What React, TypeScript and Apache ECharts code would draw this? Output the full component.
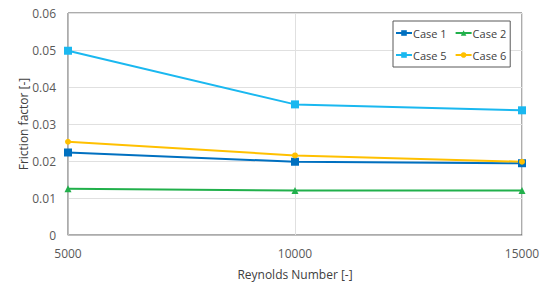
import React, { useEffect, useRef } from "react";
import * as echarts from "echarts";

const reynolds = [5000, 10000, 15000];
const case1 = [0.0223, 0.0198, 0.0194];
const case2 = [0.0125, 0.012, 0.012];
const case5 = [0.0498, 0.0353, 0.0337];
const case6 = [0.0252, 0.0215, 0.0198];
const yTicks = [0, 0.01, 0.02, 0.03, 0.04, 0.05, 0.06];

const FONT = "Open Sans";

export default function App() {
  const ref = useRef<HTMLDivElement>(null);
  useEffect(() => {
    if (!ref.current) return;
    const chart = echarts.init(ref.current, undefined, { renderer: "svg" });
    const mk = (name: string, vals: number[], color: string, symbol: string, size: number) => ({
      name,
      type: "line",
      data: reynolds.map((x, i) => [x, vals[i]]),
      symbol,
      symbolSize: size,
      showSymbol: true,
      lineStyle: { color, width: 2 },
      itemStyle: { color },
      emphasis: { disabled: true },
    });
    chart.setOption({
      animation: false,
      textStyle: { fontFamily: FONT },
      grid: {
        left: 68,
        top: 13,
        width: 454,
        height: 222,
        show: true,
        borderColor: "#595959",
        borderWidth: 1,
        containLabel: false,
      },
      legend: {
        left: 393,
        top: 21,
        width: 112,
        padding: [5, 4, 5, 2],
        itemGap: 8,
        itemWidth: 16,
        itemHeight: 7,
        borderColor: "#595959",
        borderWidth: 1,
        backgroundColor: "#fff",
        textStyle: {
          fontFamily: FONT,
          fontSize: 11,
          lineHeight: 14,
          color: "#404040",
          padding: [0, 0, 0, -4],
        },
        data: ["Case 1", "Case 2", "Case 5", "Case 6"],
      },
      xAxis: {
        type: "value",
        min: 5000,
        max: 15000,
        interval: 5000,
        name: "Reynolds Number [-]",
        nameLocation: "middle",
        nameGap: 33,
        nameMoveOverlap: false,
        nameTextStyle: { fontFamily: FONT, fontSize: 12, color: "#404040" },
        axisLine: { show: true, lineStyle: { color: "#bfbfbf", width: 1 } },
        axisTick: { show: false },
        axisLabel: {
          fontFamily: FONT,
          fontSize: 12,
          color: "#595959",
          margin: 12,
          formatter: (v: number) => String(Math.round(v)),
        },
        splitLine: { show: true, lineStyle: { color: "#e0e0e0", width: 1 } },
      },
      yAxis: {
        type: "value",
        min: 0,
        max: 0.06,
        interval: 0.01,
        name: "Friction factor [-]",
        nameLocation: "middle",
        nameGap: 39,
        nameMoveOverlap: false,
        nameTextStyle: { fontFamily: FONT, fontSize: 12, color: "#404040" },
        axisLine: { show: true, lineStyle: { color: "#bfbfbf", width: 1 } },
        axisTick: { show: false },
        axisLabel: {
          fontFamily: FONT,
          fontSize: 12,
          color: "#595959",
          margin: 12,
          formatter: (v: number) => {
            const t = yTicks.find((k) => Math.abs(k - v) < 1e-9);
            return t === 0 ? "0" : String(Number((t ?? v).toFixed(2)));
          },
        },
        splitLine: { show: true, lineStyle: { color: "#e0e0e0", width: 1 } },
      },
      series: [
        mk("Case 1", case1, "#0070C0", "rect", 8),
        mk("Case 2", case2, "#21B04B", "triangle", 7),
        mk("Case 5", case5, "#1AB8F0", "rect", 8),
        mk("Case 6", case6, "#FFC000", "circle", 6),
      ],
    });
    return () => chart.dispose();
  }, []);
  return (
    <div
      ref={ref}
      style={{ position: "absolute", left: 0, top: 0, width: 556, height: 286 }}
    />
  );
}
